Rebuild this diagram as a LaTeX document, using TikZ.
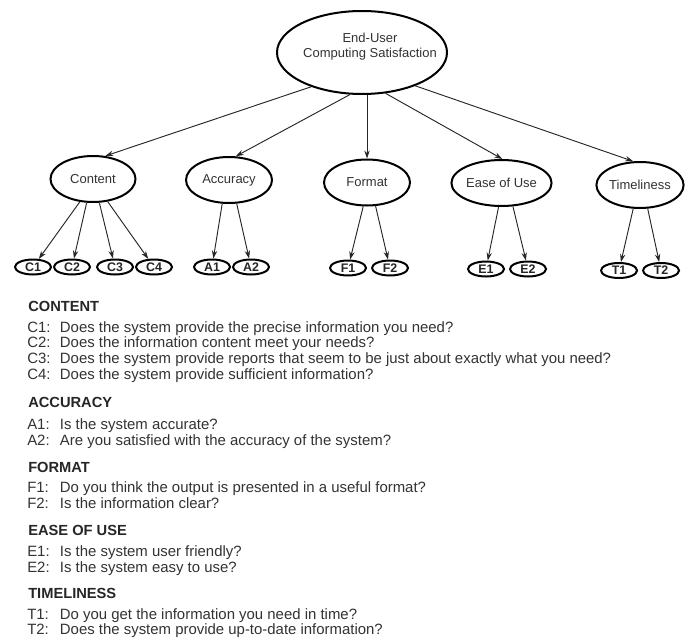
\documentclass[tikz,border=0pt]{standalone}
\usepackage{fontspec}
\setmainfont{Liberation Sans}
\usetikzlibrary{shapes.geometric,arrows.meta}
\begin{document}
\begin{tikzpicture}[x=0.75pt,y=-0.75pt,
  bigell/.style={draw=black,ellipse,line width=1.5pt,inner sep=0pt,
    font=\fontsize{9.75}{11.25}\selectfont,text=black!80,align=center},
  midell/.style={draw=black,ellipse,line width=1.5pt,inner sep=0pt,
    minimum height=46*0.75pt,font=\fontsize{9.75}{11.25}\selectfont,text=black!80},
  leafell/.style={draw=black,ellipse,line width=1.5pt,inner sep=0pt,
    minimum width=36*0.75pt,minimum height=15*0.75pt,
    font=\bfseries\fontsize{9.3}{10}\selectfont,text=black!85},
  conn/.style={draw=black!85,line width=0.7pt,-{Stealth[length=6pt,width=4pt]}},
  head/.style={anchor=base west,inner sep=0pt,font=\bfseries\fontsize{11}{12}\selectfont,text=black!85},
  qline/.style={anchor=base west,inner sep=0pt,font=\fontsize{11.2}{12}\selectfont,text=black!80}
]
\useasboundingbox (0,0) rectangle (691,638);
\fill[white] (0,0) rectangle (691,638);

% top
\node[bigell,minimum width=170*0.75pt,minimum height=83*0.75pt,
  label={[xshift=6pt,yshift=4.5pt,font=\fontsize{9.75}{11.25}\selectfont,text=black!80,align=center]center:End-User\\Computing Satisfaction}]
  (top) at (362,52.5) {};

% middle
\node[midell,minimum width=85*0.75pt] (content) at (93,179) {Content};
\node[midell,minimum width=86*0.75pt] (acc) at (229,180) {Accuracy};
\node[midell,minimum width=86*0.75pt] (format) at (367,182.5) {Format};
\node[midell,minimum width=81*0.75pt] (ease) at (501.5,183) {Ease of Use};
\node[midell,minimum width=84*0.75pt] (time) at (640,185) {Timeliness};

% leaves
\node[leafell] (c1) at (33,267) {C1};
\node[leafell] (c2) at (72,267) {C2};
\node[leafell] (c3) at (115,267) {C3};
\node[leafell] (c4) at (154,267) {C4};
\node[leafell] (a1) at (212,267) {A1};
\node[leafell] (a2) at (251,267) {A2};
\node[leafell] (f1) at (348,268) {F1};
\node[leafell] (f2) at (390,268) {F2};
\node[leafell] (e1) at (486,269) {E1};
\node[leafell] (e2) at (528,269) {E2};
\node[leafell] (t1) at (619,270.5) {T1};
\node[leafell] (t2) at (661,270.5) {T2};

% connectors top -> middle
\draw[conn] (top.214.7) -- (content.62.6);
\draw[conn] (top.254.7) -- (acc.74);
\draw[conn] (format.north |- top.south) -- (format.north);
\draw[conn] (top.300) -- (ease.88);
\draw[conn] (top.328) -- (time.106);

% connectors middle -> leaves
\draw[conn] (content.240) -- (c1);
\draw[conn] (content.255) -- (c2);
\draw[conn] (content.285) -- (c3);
\draw[conn] (content.303) -- (c4);
\draw[conn] (acc.254) -- (a1);
\draw[conn] (acc.288) -- (a2);
\draw[conn] (format.261) -- (f1);
\draw[conn] (format.290) -- (f2);
\draw[conn] (ease.263) -- (e1);
\draw[conn] (ease.296) -- (e2);
\draw[conn] (time.254) -- (t1);
\draw[conn] (time.288) -- (t2);

% text
\newcommand\qlab[1]{\makebox[24.5pt][l]{#1}}
\node[head] (hc) at (28,311) {CONTENT};
\node[qline] (q1) at (27,332) {\qlab{C1:}Does the system provide the precise information you need?};
\node[qline] (q2) at (27,347.5) {\qlab{C2:}Does the information content meet your needs?};
\node[qline] (q3) at (27,363.5) {\qlab{C3:}Does the system provide reports that seem to be just about exactly what you need?};
\node[qline] (q4) at (27,379) {\qlab{C4:}Does the system provide sufficient information?};
\node[head] (ha) at (28,407) {ACCURACY};
\node[qline] (q5) at (27,429) {\qlab{A1:}Is the system accurate?};
\node[qline] (q6) at (27,445) {\qlab{A2:}Are you satisfied with the accuracy of the system?};
\node[head] (hf) at (28,472) {FORMAT};
\node[qline] (q7) at (27,492) {\qlab{F1:}Do you think the output is presented in a useful format?};
\node[qline] (q8) at (27,508) {\qlab{F2:}Is the information clear?};
\node[head] (he) at (28,535) {EASE OF USE};
\node[qline] (q9) at (27,556) {\qlab{E1:}Is the system user friendly?};
\node[qline] (q10) at (27,572) {\qlab{E2:}Is the system easy to use?};
\node[head] (ht) at (28,598) {TIMELINESS};
\node[qline] (q11) at (27,619) {\qlab{T1:}Do you get the information you need in time?};
\node[qline] (q12) at (27,634.5) {\qlab{T2:}Does the system provide up-to-date information?};
\end{tikzpicture}
\end{document}
